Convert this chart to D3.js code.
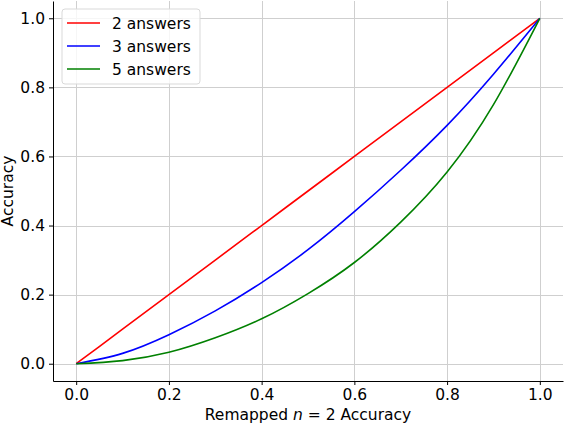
<!DOCTYPE html>
<html>
<head>
<meta charset="utf-8">
<script src="https://cdn.jsdelivr.net/npm/d3@7"></script>
<style>
  body { margin: 0; background: #fff; }
  text { font-family: "DejaVu Sans", sans-serif; fill: #000; }
</style>
</head>
<body>
<div id="vis"></div>
<script>
// values
const remappedAcc = [0, 0.1, 0.2, 0.3, 0.4, 0.5, 0.6, 0.7, 0.8, 0.9, 1.0];
const acc2 = [0, 0.1, 0.2, 0.3, 0.4, 0.5, 0.6, 0.7, 0.8, 0.9, 1.0];
const acc3 = [0, 0.03, 0.084, 0.153, 0.235, 0.33, 0.44, 0.56, 0.69, 0.838, 1.0];
const acc5 = [0, 0.009, 0.033, 0.075, 0.13, 0.203, 0.293, 0.41, 0.555, 0.75, 1.0];
const seriesNames = ["2 answers", "3 answers", "5 answers"];
const seriesColours = ["#ff0000", "#0000ff", "#008000"];
const xTicks = [0, 0.2, 0.4, 0.6, 0.8, 1.0];
const yTicks = [0, 0.2, 0.4, 0.6, 0.8, 1.0];

const width = 564, height = 424;
const margin = { left: 53, right: 1, top: 1, bottom: 43 };
const fontSize = 15.5;

let svg = d3.select("#vis").append("svg")
  .attr("width", width)
  .attr("height", height);

let x = d3.scaleLinear().domain([-0.05, 1.05]).range([margin.left, width - margin.right]);
let y = d3.scaleLinear().domain([-0.05, 1.05]).range([height - margin.bottom, margin.top]);

// grid
let grid = svg.append("g").attr("stroke", "#cfcfcf").attr("stroke-width", 1);
xTicks.forEach(t => {
  grid.append("line")
    .attr("x1", Math.round(x(t)) + 0.5).attr("x2", Math.round(x(t)) + 0.5)
    .attr("y1", y.range()[1]).attr("y2", y.range()[0]);
});
yTicks.forEach(t => {
  grid.append("line")
    .attr("y1", Math.round(y(t)) + 0.5).attr("y2", Math.round(y(t)) + 0.5)
    .attr("x1", x.range()[0]).attr("x2", x.range()[1]);
});

// lines
const allSeries = [acc2, acc3, acc5];
let line = d3.line()
  .x((d, i) => x(remappedAcc[i]))
  .y(d => y(d))
  .curve(d3.curveNatural);

allSeries.forEach((s, k) => {
  svg.append("path")
    .datum(s)
    .attr("fill", "none")
    .attr("stroke", seriesColours[k])
    .attr("stroke-width", 1.6)
    .attr("d", line);
});

// axes
let xAxis = svg.append("g")
  .attr("transform", `translate(0,${height - margin.bottom})`)
  .call(d3.axisBottom(x).tickValues(xTicks).tickFormat(d3.format(".1f"))
    .tickSizeInner(4).tickSizeOuter(0).tickPadding(4));
let yAxis = svg.append("g")
  .attr("transform", `translate(${margin.left},0)`)
  .call(d3.axisLeft(y).tickValues(yTicks).tickFormat(d3.format(".1f"))
    .tickSizeInner(4).tickSizeOuter(0).tickPadding(4));

[xAxis, yAxis].forEach(a => {
  a.selectAll("text").style("font-size", fontSize + "px").style("font-family", "DejaVu Sans");
  a.select(".domain").attr("stroke", "#000").attr("stroke-width", 1);
  a.selectAll(".tick line").attr("stroke", "#000");
});

// axis labels
let xLabel = svg.append("text")
  .attr("x", (margin.left + width - margin.right) / 2)
  .attr("y", 420)
  .attr("text-anchor", "middle")
  .style("font-size", fontSize + "px");
xLabel.append("tspan").text("Remapped ");
xLabel.append("tspan").style("font-style", "italic").text("n");
xLabel.append("tspan").text(" = 2 Accuracy");

svg.append("text")
  .attr("transform", `translate(13,${(margin.top + height - margin.bottom) / 2}) rotate(-90)`)
  .attr("text-anchor", "middle")
  .style("font-size", fontSize + "px")
  .text("Accuracy");

// legend
let legend = svg.append("g").attr("transform", "translate(62,9)");
legend.append("rect")
  .attr("width", 138).attr("height", 75)
  .attr("rx", 3)
  .attr("fill", "#fff").attr("fill-opacity", 0.8)
  .attr("stroke", "#d9d9d9");
seriesNames.forEach((name, i) => {
  let row = legend.append("g").attr("transform", `translate(0,${14 + i * 23})`);
  row.append("line")
    .attr("x1", 5).attr("x2", 38)
    .attr("stroke", seriesColours[i]).attr("stroke-width", 1.6);
  row.append("text")
    .attr("x", 50).attr("y", 5.5)
    .style("font-size", fontSize + "px")
    .text(name);
});
</script>
</body>
</html>
